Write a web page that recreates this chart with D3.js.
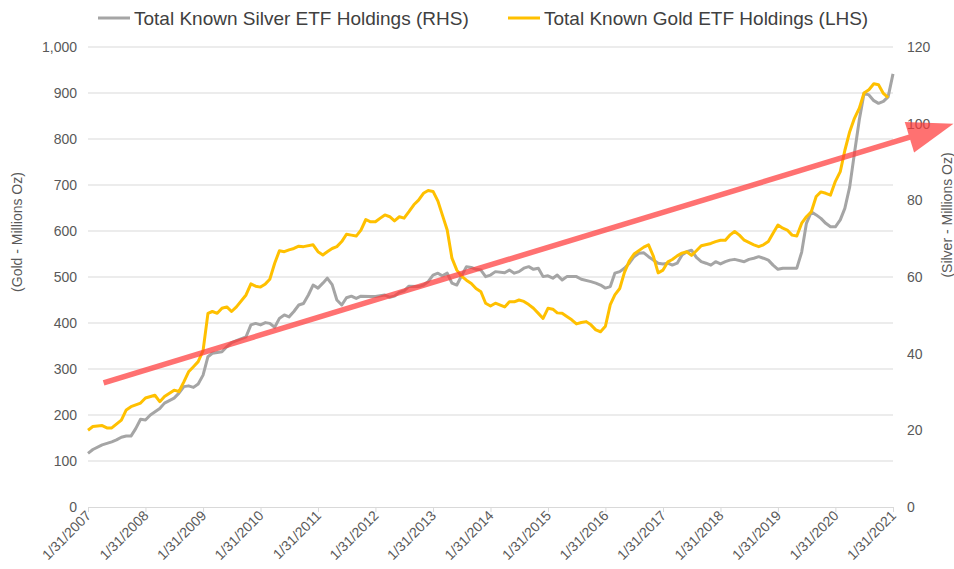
<!DOCTYPE html>
<html>
<head>
<meta charset="utf-8">
<script src="https://cdn.jsdelivr.net/npm/d3@7"></script>
<style>
  body { margin: 0; background: #fff; }
  svg { display: block; font-family: "Liberation Sans", Arial, sans-serif; }
</style>
</head>
<body>
<script>
const w = 954;
const h = 569;
const margin = { top: 47, right: 61, bottom: 62, left: 88 };

// Gold ETF holdings (millions oz, left axis)
const goldDates = [
  "2007-01","2007-02","2007-04","2007-05","2007-06","2007-08","2007-09","2007-10","2007-12",
  "2008-01","2008-03","2008-04","2008-05","2008-07","2008-08","2008-09","2008-10","2008-11","2008-12",
  "2009-01","2009-02","2009-03","2009-04","2009-05","2009-06","2009-07","2009-08","2009-10","2009-11","2009-12",
  "2010-01","2010-02","2010-03","2010-04","2010-05","2010-06","2010-07","2010-08","2010-09","2010-10","2010-12",
  "2011-01","2011-02","2011-03","2011-04","2011-05","2011-06","2011-07","2011-08","2011-09","2011-10","2011-11","2011-12",
  "2012-01","2012-02","2012-03","2012-04","2012-05","2012-06","2012-07","2012-08","2012-09","2012-10","2012-11","2012-12",
  "2013-01","2013-02","2013-03","2013-04","2013-05","2013-06","2013-07","2013-08","2013-09","2013-10","2013-11","2013-12",
  "2014-01","2014-02","2014-04","2014-05","2014-06","2014-07","2014-08","2014-09","2014-10","2014-11","2014-12",
  "2015-01","2015-02","2015-03","2015-04","2015-05","2015-06","2015-07","2015-08","2015-09","2015-10","2015-11","2015-12",
  "2016-01","2016-02","2016-03","2016-04","2016-05","2016-06","2016-07","2016-09","2016-10","2016-11","2016-12",
  "2017-01","2017-02","2017-03","2017-04","2017-05","2017-06","2017-07","2017-08","2017-09","2017-11","2017-12",
  "2018-01","2018-02","2018-03","2018-04","2018-05","2018-06","2018-08","2018-09","2018-10","2018-11","2018-12",
  "2019-01","2019-02","2019-03","2019-04","2019-05","2019-06","2019-07","2019-08","2019-09","2019-10","2019-11","2019-12",
  "2020-01","2020-02","2020-03","2020-04","2020-05","2020-06","2020-07","2020-08","2020-09","2020-10","2020-11","2020-12"
];
const goldValues = [
  167,175,177,172,172,189,211,218,226,
  237,243,229,240,254,251,272,294,305,316,
  340,421,425,421,432,435,425,435,461,485,480,
  478,485,495,530,557,555,559,562,567,566,570,
  555,548,555,562,566,577,593,591,589,602,625,620,
  620,628,635,631,622,631,628,642,657,667,682,688,
  686,665,635,602,541,515,502,493,486,475,468,443,
  437,443,435,446,446,450,447,440,432,421,410,
  432,430,422,421,414,407,398,401,403,396,385,381,
  393,440,461,475,510,535,550,565,570,545,509,
  515,533,538,546,552,555,547,557,568,573,577,
  580,580,591,599,591,580,570,566,570,577,595,
  613,606,602,591,589,617,631,642,675,685,682,678,
  708,729,775,816,845,867,900,907,920,918,899,890
];

// Silver ETF holdings (millions oz, right axis)
const silverDates = [
  "2007-01","2007-02","2007-04","2007-06","2007-07","2007-08","2007-09","2007-10","2007-11","2007-12",
  "2008-01","2008-02","2008-04","2008-05","2008-07","2008-08","2008-09","2008-10","2008-11","2008-12",
  "2009-01","2009-02","2009-03","2009-04","2009-05","2009-06","2009-07","2009-08","2009-10","2009-11","2009-12",
  "2010-01","2010-02","2010-03","2010-04","2010-05","2010-06","2010-07","2010-08","2010-09","2010-10","2010-11","2010-12",
  "2011-01","2011-02","2011-03","2011-04","2011-05","2011-06","2011-07","2011-08","2011-09","2011-10","2011-12",
  "2012-01","2012-03","2012-04","2012-05","2012-06","2012-07","2012-08","2012-10","2012-11","2012-12",
  "2013-01","2013-02","2013-03","2013-04","2013-05","2013-06","2013-07","2013-08","2013-09","2013-10","2013-11","2013-12",
  "2014-01","2014-02","2014-04","2014-05","2014-06","2014-07","2014-08","2014-09","2014-10","2014-11","2014-12",
  "2015-01","2015-02","2015-03","2015-04","2015-05","2015-07","2015-08","2015-10","2015-11","2015-12",
  "2016-01","2016-02","2016-03","2016-04","2016-05","2016-06","2016-07","2016-08","2016-09","2016-10","2016-11","2016-12",
  "2017-01","2017-02","2017-03","2017-04","2017-05","2017-06","2017-07","2017-08","2017-09","2017-10","2017-11","2017-12",
  "2018-01","2018-02","2018-03","2018-04","2018-06","2018-07","2018-08","2018-09","2018-10","2018-11","2018-12",
  "2019-01","2019-02","2019-03","2019-05","2019-06","2019-07","2019-08","2019-09","2019-10","2019-11","2019-12",
  "2020-01","2020-02","2020-03","2020-04","2020-05","2020-06","2020-07","2020-08","2020-09","2020-10","2020-11","2020-12",
  "2021-01"
];
const silverValues = [
  14.0,15.0,16.2,17.0,17.5,18.2,18.5,18.5,20.5,22.9,
  22.7,24.0,25.7,27.1,28.4,29.7,31.4,31.6,31.2,32.1,
  34.4,39.2,40.1,40.3,40.5,41.8,42.9,43.4,44.4,47.5,47.9,
  47.5,48.1,47.9,46.9,49.2,50.1,49.6,51.0,52.7,53.1,55.3,57.9,
  57.1,58.4,59.7,58.0,54.0,52.7,54.6,55.0,54.4,55.0,54.9,
  54.9,55.3,54.7,55.0,56.0,56.4,57.6,57.5,57.9,58.8,
  60.5,61.0,60.3,61.0,58.4,57.9,60.3,62.7,62.5,62.0,61.8,60.1,
  60.5,61.4,61.1,61.8,61.0,61.4,62.3,62.7,62.0,62.3,60.1,
  60.3,59.7,60.5,59.2,60.1,60.1,59.4,58.8,58.4,57.9,
  57.1,57.5,61.0,61.4,62.3,63.6,65.3,66.2,66.3,65.3,64.4,63.6,
  63.4,63.6,63.1,63.6,65.7,66.6,67.0,65.1,64.0,63.6,63.1,64.0,
  63.4,64.0,64.4,64.6,64.0,64.6,64.9,65.3,64.9,64.4,63.1,
  62.0,62.3,62.3,62.3,66.5,74.0,77.0,76.2,75.3,74.0,73.1,
  73.1,74.9,77.9,83.5,92.3,101.0,107.9,107.5,106.0,105.3,105.8,107.0,
  113.0
];

// axis ticks
const yearTicks = d3.range(2007, 2022).map(y => y + "-01");
const goldTicks = d3.range(0, 1001, 100);
const silverTicks = d3.range(0, 121, 20);

// trend arrow drawn on the gold scale
const arrowFrom = { date: "2007-04-10", value: 270 };
const arrowTo = { date: "2022-01-20", value: 833 };

const parseMonth = d3.timeParse("%Y-%m");
const parseDay = d3.timeParse("%Y-%m-%d");

const gold = goldDates.map((d, i) => ({ date: parseMonth(d), value: goldValues[i] }));
const silver = silverDates.map((d, i) => ({ date: parseMonth(d), value: silverValues[i] }));

const svg = d3.select("body").append("svg")
    .attr("width", w)
    .attr("height", h);

const x = d3.scaleTime()
    .domain([parseMonth("2007-01"), parseMonth("2021-01")])
    .range([margin.left, w - margin.right]);

const yGold = d3.scaleLinear()
    .domain([0, 1000])
    .range([h - margin.bottom, margin.top]);

const ySilver = d3.scaleLinear()
    .domain([0, 120])
    .range([h - margin.bottom, margin.top]);

const gridColor = "#d9d9d9";
const labelColor = "#595959";

// gridlines
svg.append("g")
    .selectAll("line")
    .data(goldTicks.slice(1))
    .join("line")
    .attr("x1", margin.left)
    .attr("x2", w - margin.right)
    .attr("y1", d => yGold(d))
    .attr("y2", d => yGold(d))
    .attr("stroke", gridColor)
    .attr("stroke-width", 1);

// x axis
const xAxis = d3.axisBottom(x)
    .tickValues(yearTicks.map(parseMonth))
    .tickSize(5)
    .tickFormat(d => "1/31/" + d.getFullYear());

const gx = svg.append("g")
    .attr("transform", `translate(0, ${yGold(0)})`)
    .call(xAxis);
gx.select(".domain").attr("stroke", gridColor);
gx.selectAll(".tick line").attr("stroke", gridColor);
gx.selectAll(".tick text")
    .attr("fill", labelColor)
    .attr("font-size", 14)
    .attr("text-anchor", "end")
    .attr("transform", "translate(-2, 4) rotate(-45)")
    .attr("dy", "0.35em")
    .attr("y", 3)
    .attr("x", 0);

// left axis labels
const yAxisL = d3.axisLeft(yGold)
    .tickValues(goldTicks)
    .tickSize(0)
    .tickPadding(11)
    .tickFormat(d3.format(","));
const gl = svg.append("g")
    .attr("transform", `translate(${margin.left}, 0)`)
    .call(yAxisL);
gl.select(".domain").remove();
gl.selectAll(".tick text").attr("fill", labelColor).attr("font-size", 14);

// right axis labels
const yAxisR = d3.axisRight(ySilver)
    .tickValues(silverTicks)
    .tickSize(0)
    .tickPadding(14);
const gr = svg.append("g")
    .attr("transform", `translate(${w - margin.right}, 0)`)
    .call(yAxisR);
gr.select(".domain").remove();
gr.selectAll(".tick text").attr("fill", labelColor).attr("font-size", 14);

// axis titles
svg.append("text")
    .attr("transform", "translate(22, 232) rotate(-90)")
    .attr("text-anchor", "middle")
    .attr("fill", labelColor)
    .attr("font-size", 14)
    .text("(Gold - Millions Oz)");

svg.append("text")
    .attr("transform", "translate(952, 215) rotate(-90)")
    .attr("text-anchor", "middle")
    .attr("fill", labelColor)
    .attr("font-size", 14)
    .text("(Silver - Millions Oz)");

// series lines
const silverLine = d3.line()
    .x(d => x(d.date))
    .y(d => ySilver(d.value));

const goldLine = d3.line()
    .x(d => x(d.date))
    .y(d => yGold(d.value));

svg.append("path")
    .datum(silver)
    .attr("d", silverLine)
    .attr("fill", "none")
    .attr("stroke", "#a5a5a5")
    .attr("stroke-width", 3)
    .attr("stroke-linejoin", "round");

svg.append("path")
    .datum(gold)
    .attr("d", goldLine)
    .attr("fill", "none")
    .attr("stroke", "#ffc000")
    .attr("stroke-width", 3)
    .attr("stroke-linejoin", "round");

// red trend arrow
const ax0 = x(parseDay(arrowFrom.date)), ay0 = yGold(arrowFrom.value);
const ax1 = x(parseDay(arrowTo.date)), ay1 = yGold(arrowTo.value);
const len = Math.hypot(ax1 - ax0, ay1 - ay0);
const ux = (ax1 - ax0) / len, uy = (ay1 - ay0) / len;
const headLen = 46, headHalf = 16;
const bx = ax1 - ux * headLen, by = ay1 - uy * headLen;

const arrow = svg.append("g").attr("opacity", 0.72);
arrow.append("line")
    .attr("x1", ax0).attr("y1", ay0)
    .attr("x2", bx + ux * 2).attr("y2", by + uy * 2)
    .attr("stroke", "#ff3b3b")
    .attr("stroke-width", 5.5);
arrow.append("path")
    .attr("d", d3.line()([
        [ax1, ay1],
        [bx - uy * headHalf, by + ux * headHalf],
        [bx + uy * headHalf, by - ux * headHalf]
    ]) + "Z")
    .attr("fill", "#ff3b3b");

// legend
const legend = [
    { label: "Total Known Silver ETF Holdings (RHS)", color: "#a5a5a5", x: 98 },
    { label: "Total Known Gold ETF Holdings (LHS)", color: "#ffc000", x: 508 }
];
const lg = svg.append("g").selectAll("g").data(legend).join("g")
    .attr("transform", d => `translate(${d.x}, 18)`);
lg.append("line")
    .attr("x1", 0).attr("x2", 32)
    .attr("stroke", d => d.color)
    .attr("stroke-width", 3);
lg.append("text")
    .attr("x", 36)
    .attr("dy", "0.35em")
    .attr("fill", "#404040")
    .attr("font-size", 19)
    .text(d => d.label);
</script>
</body>
</html>
